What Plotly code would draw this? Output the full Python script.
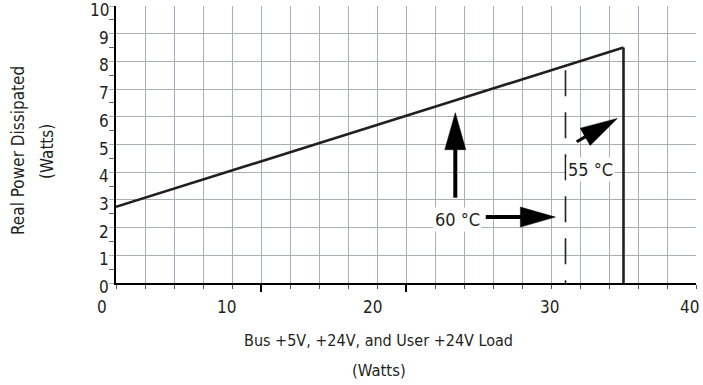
import math
import plotly.graph_objects as go

# ---- data ----
load_watts = [0, 35]
power_watts = [2.75, 8.5]
limit_55c_x = [35, 35]
limit_55c_y = [0, 8.5]
limit_60c_x = [31, 31]
limit_60c_y = [7.68, 0]

x_tick_text = ["0", "10", "20", "30", "40"]
x_tick_label_pos = [-0.95, 7.65, 17.7, 29.9, 39.55]
y_tick_vals = [0, 1, 2, 3, 4, 5, 6, 7, 8, 9, 10]

# arrows: (tail_x, tail_y, tip_x, tip_y, head_len_px, head_w_px, shaft_w)
arrow_specs = [
    (23.4, 3.08, 23.4, 6.15, 37, 21, 4),
    (25.5, 2.38, 30.3, 2.38, 35, 20, 4),
    (31.77, 5.10, 34.57, 5.94, 37, 20, 3),
]
labels = [("60 °C", 23.55, 2.28), ("55 °C", 32.75, 4.08)]

# ---- layout geometry ----
W, H = 703, 385
ML, MR, MT, MB = 116, 7, 6, 102
XR = [0, 40]
YR = [0, 10]
PW = W - ML - MR
PH = H - MT - MB
px_x = PW / (XR[1] - XR[0])
px_y = PH / (YR[1] - YR[0])

FONT = "DejaVu Sans Condensed, Liberation Sans Narrow, Arial Narrow, sans-serif"
GRID = "#a7afb7"
INK = "#231f20"

fig = go.Figure()
fig.add_trace(go.Scatter(x=load_watts, y=power_watts, mode="lines",
                         line=dict(color=INK, width=2.6), hoverinfo="skip"))
fig.add_trace(go.Scatter(x=limit_55c_x, y=limit_55c_y, mode="lines",
                         line=dict(color=INK, width=2.6), hoverinfo="skip"))
fig.add_trace(go.Scatter(x=limit_60c_x, y=limit_60c_y, mode="lines",
                         line=dict(color=INK, width=1.6, dash="26px,16px"),
                         hoverinfo="skip"))

shapes = []
for tx, ty, hx, hy, L, Wd, sw in arrow_specs:
    dxp = (hx - tx) * px_x
    dyp = (hy - ty) * px_y
    n = math.hypot(dxp, dyp)
    ux, uy = dxp / n, dyp / n
    bx = hx - (L - 1) * ux / px_x
    by = hy - (L - 1) * uy / px_y
    shapes.append(dict(type="line", xref="x", yref="y", x0=tx, y0=ty, x1=bx, y1=by,
                       line=dict(color="black", width=sw)))
    px_, py_ = -uy, ux
    c1 = (-L * ux + Wd / 2 * px_, -L * uy + Wd / 2 * py_)
    c2 = (-L * ux - Wd / 2 * px_, -L * uy - Wd / 2 * py_)
    path = f"M0,0 L{c1[0]:.2f},{c1[1]:.2f} L{c2[0]:.2f},{c2[1]:.2f} Z"
    shapes.append(dict(type="path", xref="x", yref="y", xsizemode="pixel",
                       ysizemode="pixel", xanchor=hx, yanchor=hy, path=path,
                       fillcolor="black", line=dict(color="black", width=0.5)))

annotations = []
for t, x in zip(x_tick_text, x_tick_label_pos):
    annotations.append(dict(text=t, x=(x - XR[0]) / (XR[1] - XR[0]), y=0,
                            xref="paper", yref="paper", showarrow=False,
                            xanchor="center", yanchor="middle", yshift=-24,
                            font=dict(size=17, color=INK, family=FONT)))
for v in y_tick_vals:
    annotations.append(dict(text=str(v), x=0, y=(v - YR[0]) / (YR[1] - YR[0]),
                            xref="paper", yref="paper", showarrow=False,
                            xanchor="right", yanchor="middle", xshift=-5, yshift=-4,
                            font=dict(size=17, color=INK, family=FONT)))
for t, x, y in labels:
    annotations.append(dict(text=t, x=x, y=y, xref="x", yref="y", showarrow=False,
                            xanchor="center", yanchor="middle",
                            bgcolor="white", borderpad=1,
                            font=dict(size=18, color=INK, family=FONT)))

titles = [
    ("Bus +5V, +24V, and User +24V Load", 378, 340, 0, 16),
    ("(Watts)", 379, 370, 0, 16.5),
    ("Real Power Dissipated", 18, 151, -90, 17),
    ("(Watts)", 47, 152, -90, 17),
]
for t, xp, yp, ang, fs in titles:
    annotations.append(dict(text=t, x=(xp - ML) / PW, y=(MT + PH - yp) / PH,
                            xref="paper", yref="paper", showarrow=False,
                            xanchor="center", yanchor="middle", textangle=ang,
                            font=dict(size=fs, color=INK, family=FONT)))

fig.update_layout(
    width=W, height=H, margin=dict(l=ML, r=MR, t=MT, b=MB),
    paper_bgcolor="white", plot_bgcolor="white", showlegend=False,
    shapes=shapes, annotations=annotations,
    font=dict(family=FONT, color=INK),
)
fig.update_xaxes(
    range=XR, tickmode="array", tickvals=[10, 20], showticklabels=False,
    ticks="outside", ticklen=7, tickwidth=2, tickcolor="black",
    showgrid=True, gridcolor=GRID, gridwidth=1.4, zeroline=False,
    showline=True, linecolor="black", linewidth=1.6,
    minor=dict(tickmode="linear", tick0=0, dtick=2, ticks="outside", ticklen=4,
               tickcolor="#555", tickwidth=1.2, showgrid=True, gridcolor=GRID,
               gridwidth=1.4),
)
fig.update_yaxes(
    range=YR, tickmode="linear", tick0=0, dtick=1, showticklabels=False,
    ticks="outside", ticklen=5, tickcolor=GRID, tickwidth=1.4,
    showgrid=True, gridcolor=GRID, gridwidth=1.4, zeroline=False,
    showline=True, linecolor="black", linewidth=1.6,
    minor=dict(tickmode="linear", tick0=0.5, dtick=1, ticks="outside", ticklen=5,
               tickcolor="#666", tickwidth=1.2, showgrid=False),
)

fig.write_html("out.html", config={"displayModeBar": False},
               post_script="document.body.style.margin='0';document.body.style.padding='0';")
